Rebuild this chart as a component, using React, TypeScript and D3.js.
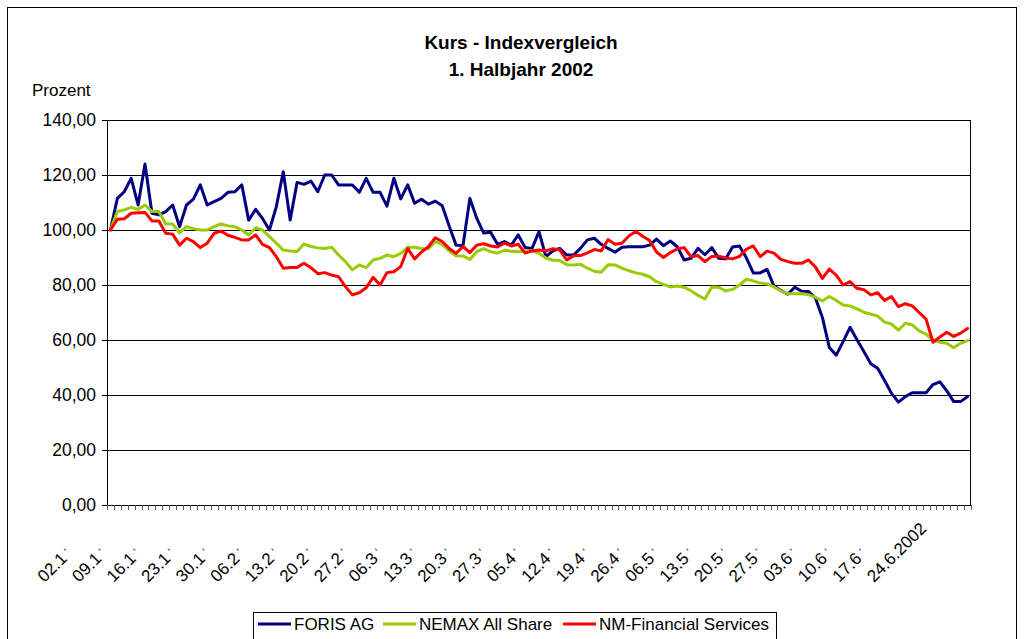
import React from "react";
import * as d3 from "d3";

const title1 = "Kurs - Indexvergleich";
const title2 = "1. Halbjahr 2002";
const yAxisTitle = "Prozent";

// Week labels, one every 5 trading days
const weekLabels = ["02.1", "09.1", "16.1", "23.1", "30.1", "06.2", "13.2", "20.2", "27.2", "06.3", "13.3", "20.3", "27.3", "05.4", "12.4", "19.4", "26.4", "06.5", "13.5", "20.5", "27.5", "03.6", "10.6", "17.6", "24.6.2002"];
const yTicks = [0, 20, 40, 60, 80, 100, 120, 140];

const seriesNames = ["FORIS AG", "NEMAX All Share", "NM-Financial Services"];
const seriesColors = ["#000080", "#99CC00", "#FF0000"];

const foris = [
  100, 111.5, 113.9, 118.8, 109.1, 124.0, 106.1, 105.5, 106.7, 109.1,
  101.2, 109.1, 111.2, 116.4, 109.1, 110.3, 111.5, 113.7, 113.9, 116.4,
  103.6, 107.5, 104.2, 100.0, 108.5, 121.2, 103.6, 117.3, 116.6, 117.8,
  113.9, 120.0, 120.0, 116.4, 116.4, 116.4, 113.7, 118.8, 113.7, 113.7,
  108.7, 118.8, 111.3, 116.4, 109.7, 111.2, 109.4, 110.5, 108.8, 101.5,
  94.5, 94.3, 111.5, 104.2, 98.9, 99.2, 94.8, 95.8, 94.5, 98.2,
  93.6, 93.3, 99.4, 90.3, 92.4, 93.3, 90.9, 90.9, 93.3, 96.4,
  97.0, 94.8, 93.3, 91.9, 93.7, 93.9, 93.9, 93.9, 94.5, 96.7,
  94.3, 96.0, 93.9, 89.1, 89.7, 93.3, 91.0, 93.6, 89.7, 89.5,
  93.8, 94.2, 89.9, 84.4, 84.4, 85.7, 79.5, 78.0, 76.7, 79.2,
  77.7, 77.6, 75.2, 68.2, 57.3, 54.5, 59.4, 64.6, 60.1, 55.8,
  51.4, 49.7, 45.3, 40.6, 37.4, 39.4, 40.8, 40.8, 40.8, 43.8,
  44.8, 41.5, 37.6, 37.6, 39.4,
];

const nemax = [
  100, 106.7, 107.3, 108.2, 107.5, 109.1, 106.7, 106.7, 102.2, 102.2,
  99.0, 101.2, 100.5, 100.0, 100.0, 101.2, 102.2, 101.5, 101.2, 100.0,
  98.2, 100.8, 100.0, 97.6, 95.2, 92.7, 92.4, 92.2, 94.9, 94.0,
  93.5, 93.3, 93.7, 90.9, 88.5, 85.5, 87.3, 86.3, 89.1, 89.7,
  90.9, 90.3, 91.5, 93.7, 93.7, 93.3, 93.2, 95.8, 94.8, 92.4,
  90.6, 90.5, 89.3, 92.1, 93.2, 92.1, 91.6, 92.6, 92.3, 92.1,
  92.4, 92.4, 91.5, 89.8, 89.0, 88.9, 87.4, 87.3, 87.5, 86.1,
  85.0, 84.6, 87.4, 87.3, 86.1, 85.2, 84.4, 83.9, 83.0, 81.2,
  80.2, 79.3, 79.6, 79.2, 77.9, 76.2, 74.9, 79.3, 79.2, 77.8,
  78.4, 80.0, 82.1, 81.5, 80.7, 80.4, 79.3, 77.8, 76.9, 76.8,
  76.8, 76.5, 75.5, 74.2, 75.8, 74.4, 72.7, 72.4, 71.3, 70.1,
  69.4, 68.7, 66.5, 65.8, 63.6, 66.1, 65.5, 63.3, 62.1, 60.0,
  59.2, 58.8, 57.2, 58.8, 59.8,
];

const nmFinancial = [
  100, 103.9, 104.1, 106.1, 106.3, 106.4, 103.3, 103.3, 98.8, 98.5,
  94.5, 97.0, 95.8, 93.6, 95.2, 98.8, 99.6, 98.1, 97.3, 96.4,
  96.4, 98.2, 94.8, 93.6, 90.3, 86.1, 86.4, 86.4, 87.9, 86.3,
  84.1, 84.5, 83.6, 83.0, 79.4, 76.4, 77.2, 79.0, 82.8, 80.0,
  84.5, 84.8, 86.7, 93.3, 89.5, 92.0, 93.9, 97.2, 95.8, 93.3,
  91.5, 94.0, 91.8, 94.5, 95.0, 94.2, 93.8, 95.2, 94.2, 94.8,
  91.6, 92.4, 92.7, 92.4, 93.2, 92.8, 89.1, 90.6, 90.7, 91.7,
  92.9, 92.4, 96.5, 94.8, 95.2, 97.8, 99.5, 97.7, 96.2, 92.0,
  90.0, 91.8, 93.1, 93.6, 90.3, 90.7, 88.5, 90.4, 90.5, 89.8,
  89.5, 90.4, 93.0, 94.2, 90.3, 92.3, 91.6, 89.3, 88.5, 87.9,
  87.9, 89.1, 86.5, 82.4, 85.8, 83.6, 80.0, 81.2, 78.8, 78.3,
  76.4, 77.2, 74.4, 75.8, 72.1, 73.2, 72.4, 70.0, 67.6, 59.2,
  61.1, 62.8, 61.3, 62.5, 64.2,
];

const allSeries = [foris, nemax, nmFinancial];
const FONT = "'Liberation Sans', Arial, sans-serif";

export default function App() {
  const left = 107, right = 971, top = 120, bottom = 505;
  const n = foris.length;
  const idx = d3.range(n);
  const x = d3.scalePoint<number>().domain(idx).range([left, right]).padding(0.5);
  const step = x.step();
  const y = d3.scaleLinear().domain([0, 140]).range([bottom, top]);
  const line = (data: number[]) =>
    d3.line<number>().x((_, i) => x(i) as number).y((v) => y(v))(data) || "";

  const boundaries = d3.range(n + 1).map((k) => left + k * step);

  return (
    <svg width={1024} height={639} style={{ position: "absolute", left: 0, top: 0, background: "#fff" }}
      fontFamily={FONT}>
      <rect x={0} y={0} width={1024} height={639} fill="#fff" />
      <rect x={7.5} y={7.5} width={1009} height={700} fill="none" stroke="#000" strokeWidth={1} />
      <text x={521} y={49} textAnchor="middle" fontSize={19} fontWeight="bold">{title1}</text>
      <text x={521} y={76} textAnchor="middle" fontSize={19} fontWeight="bold">{title2}</text>
      <text x={32} y={96} fontSize={17}>{yAxisTitle}</text>

      {yTicks.map((t) => (
        <g key={t}>
          <line x1={left} x2={right} y1={Math.round(y(t)) + 0.5} y2={Math.round(y(t)) + 0.5} stroke="#000" strokeWidth={1} />
          <line x1={left - 5} x2={left} y1={Math.round(y(t)) + 0.5} y2={Math.round(y(t)) + 0.5} stroke="#000" strokeWidth={1} />
          <text x={96} y={y(t) + 6} textAnchor="end" fontSize={17.5}>{t.toFixed(2).replace(".", ",")}</text>
        </g>
      ))}
      <line x1={left + 0.5} x2={left + 0.5} y1={top} y2={bottom + 1} stroke="#000" />
      <line x1={right - 0.5} x2={right - 0.5} y1={top} y2={bottom + 1} stroke="#000" />
      {boundaries.map((bx, k) => (
        <line key={k} x1={Math.round(bx) + 0.5} x2={Math.round(bx) + 0.5} y1={bottom} y2={bottom + 5} stroke="#555" strokeWidth={1} />
      ))}

      {weekLabels.map((lab, j) => {
        const cx = x(j * 5) as number;
        const sx = cx - 66;
        const sy = 583;
        const last = j === weekLabels.length - 1;
        return (
          <text key={lab} x={sx} y={sy} fontSize={17} transform={`rotate(-45 ${sx} ${sy})`}>
            {lab}
            {!last && <tspan dx={4} dy={-3} fontSize={11}>‘</tspan>}
          </text>
        );
      })}

      {allSeries.map((s, k) => (
        <path key={k} d={line(s)} fill="none" stroke={seriesColors[k]} strokeWidth={3} strokeLinejoin="round" strokeLinecap="round" />
      ))}

      <rect x={253.5} y={612.5} width={523} height={40} fill="#fff" stroke="#000" strokeWidth={1} />
      {seriesNames.map((name, k) => {
        const lx = [258, 383, 563][k];
        return (
          <g key={name}>
            <line x1={lx} x2={lx + 33} y1={624} y2={624} stroke={seriesColors[k]} strokeWidth={3} />
            <text x={lx + 36} y={630} fontSize={17}>{name}</text>
          </g>
        );
      })}
    </svg>
  );
}
